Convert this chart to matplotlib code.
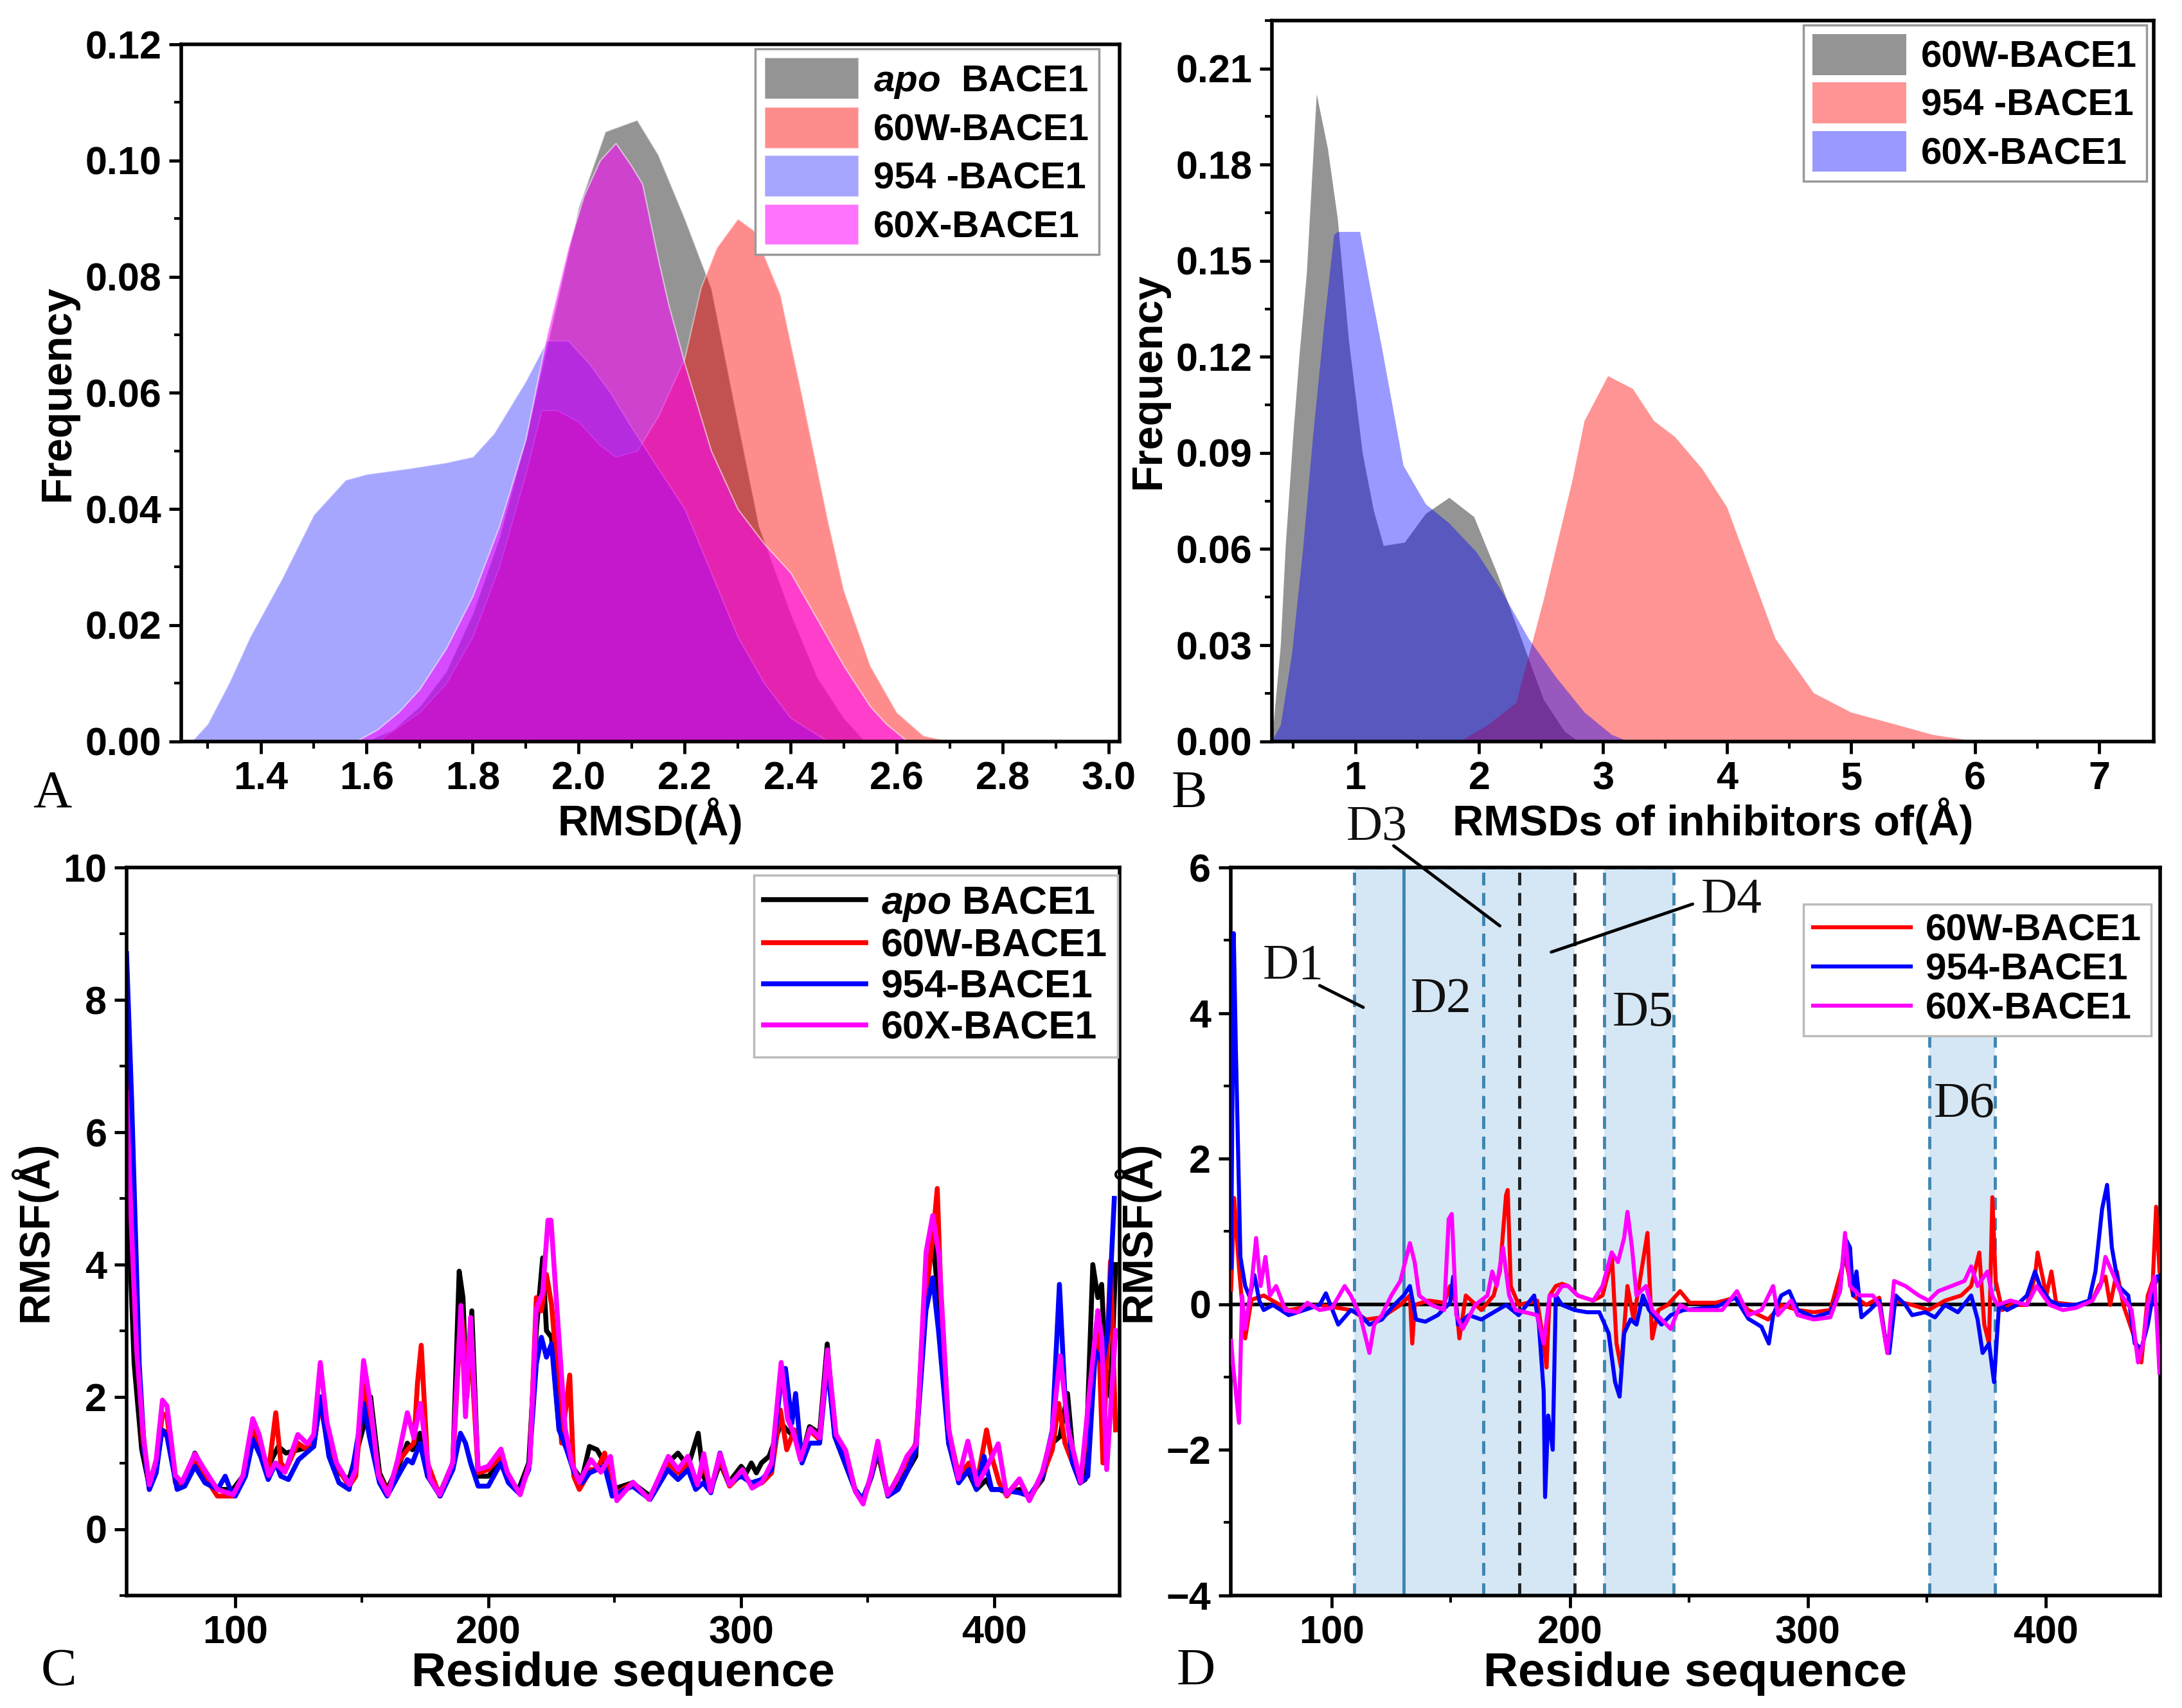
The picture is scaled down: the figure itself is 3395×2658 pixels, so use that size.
import matplotlib
matplotlib.use("Agg")
import matplotlib.pyplot as plt
from matplotlib.ticker import MultipleLocator, FormatStrFormatter
import numpy as np

plt.rcParams['font.family'] = ['Liberation Sans', 'DejaVu Sans']
plt.rcParams['font.weight'] = 'bold'
plt.rcParams['axes.labelweight'] = 'bold'
plt.rcParams['mathtext.fontset'] = 'custom'
plt.rcParams['mathtext.it'] = 'Liberation Sans:italic:bold'
plt.rcParams['mathtext.rm'] = 'Liberation Sans:bold'

# ---------------- panel A: RMSD distributions of the complexes ----------------
a_apo_x = [1.60, 1.65, 1.70, 1.75, 1.80, 1.85, 1.90, 1.95, 2.00, 2.05, 2.08, 2.11, 2.15, 2.20,
           2.25, 2.30, 2.34, 2.40, 2.45, 2.50, 2.54]
a_apo_y = [0, 0.002, 0.006, 0.012, 0.022, 0.035, 0.052, 0.072, 0.092, 0.105, 0.106, 0.107, 0.101,
           0.090, 0.078, 0.055, 0.037, 0.022, 0.011, 0.004, 0]
a_60w_x = [1.62, 1.70, 1.75, 1.80, 1.85, 1.90, 1.93, 1.96, 2.00, 2.04, 2.07, 2.11, 2.15, 2.20,
           2.23, 2.26, 2.30, 2.33, 2.38, 2.42, 2.47, 2.50, 2.55, 2.60, 2.65, 2.70]
a_60w_y = [0, 0.005, 0.010, 0.018, 0.030, 0.046, 0.057, 0.057, 0.055, 0.051, 0.049, 0.050, 0.056,
           0.066, 0.078, 0.085, 0.090, 0.088, 0.077, 0.060, 0.038, 0.026, 0.013, 0.005, 0.001, 0]
a_954_x = [1.27, 1.30, 1.34, 1.38, 1.44, 1.50, 1.56, 1.60, 1.68, 1.75, 1.80, 1.84, 1.90, 1.94,
           1.98, 2.02, 2.06, 2.10, 2.15, 2.20, 2.25, 2.30, 2.35, 2.40, 2.47]
a_954_y = [0, 0.003, 0.010, 0.018, 0.028, 0.039, 0.045, 0.046, 0.047, 0.048, 0.049, 0.053, 0.062,
           0.069, 0.069, 0.065, 0.060, 0.054, 0.047, 0.040, 0.029, 0.018, 0.010, 0.004, 0]
a_60x_x = [1.58, 1.62, 1.66, 1.70, 1.75, 1.80, 1.85, 1.90, 1.94, 1.98, 2.01, 2.04, 2.07, 2.10,
           2.12, 2.15, 2.17, 2.20, 2.25, 2.30, 2.35, 2.40, 2.45, 2.50, 2.55, 2.58, 2.62]
a_60x_y = [0, 0.002, 0.005, 0.009, 0.016, 0.025, 0.037, 0.052, 0.070, 0.085, 0.094, 0.100, 0.103,
           0.099, 0.096, 0.083, 0.075, 0.065, 0.050, 0.040, 0.034, 0.029, 0.021, 0.013, 0.006,
           0.003, 0]

# ---------------- panel B: RMSD distributions of the inhibitors ----------------
b_60w_x = [0.33, 0.40, 0.44, 0.50, 0.55, 0.61, 0.69, 0.78, 0.86, 0.95, 1.06, 1.15, 1.23, 1.40,
           1.57, 1.76, 1.96, 2.15, 2.35, 2.52, 2.69, 2.80]
b_60w_y = [0, 0.030, 0.061, 0.095, 0.120, 0.146, 0.202, 0.185, 0.163, 0.125, 0.090, 0.072, 0.061,
           0.062, 0.071, 0.076, 0.070, 0.052, 0.031, 0.013, 0.003, 0]
b_954_x = [1.85, 2.07, 2.30, 2.52, 2.75, 2.85, 3.04, 3.24, 3.41, 3.58, 3.80, 4.00, 4.20, 4.39,
           4.70, 5.00, 5.38, 5.66, 6.00]
b_954_y = [0, 0.005, 0.012, 0.044, 0.081, 0.100, 0.114, 0.110, 0.100, 0.095, 0.085, 0.073, 0.052,
           0.032, 0.015, 0.009, 0.005, 0.002, 0]
b_60x_x = [0.33, 0.40, 0.49, 0.58, 0.66, 0.75, 0.83, 0.86, 1.04, 1.13, 1.22, 1.39, 1.57, 1.76,
           1.98, 2.18, 2.40, 2.62, 2.85, 3.07, 3.20]
b_60x_y = [0, 0.005, 0.027, 0.060, 0.095, 0.130, 0.158, 0.159, 0.159, 0.140, 0.122, 0.086, 0.074,
           0.068, 0.059, 0.047, 0.032, 0.020, 0.009, 0.002, 0]

# ---------------- panel C: RMSF (residue, value) ----------------
c_apo = [(57, 5.5), (60, 2.5), (63, 1.2), (66, 0.65), (68.7, 0.9), (71, 1.5), (73, 1.45), (77, 0.65),
         (80, 0.7), (84, 1.15), (88, 0.85), (93, 0.6), (99, 0.6), (103, 0.8), (107, 1.4), (110, 1.2),
         (113, 0.95), (117, 1.25), (120, 1.15), (125, 1.2), (131, 1.25), (133.6, 2.0), (137, 1.2),
         (141, 0.85), (145, 0.75), (150.7, 1.55), (153.5, 2.0), (157, 0.85), (160, 0.6), (165, 1.0),
         (168, 1.3), (170, 1.2), (173, 1.45), (176, 0.8), (181, 0.55), (186, 1.0), (188.5, 3.9),
         (190, 3.5), (191.5, 2.0), (193.5, 3.3), (196, 0.8), (200, 0.8), (205, 1.0), (208, 0.75),
         (212, 0.6), (216, 1.0), (219, 3.0), (221.5, 4.1), (223, 3.0), (225, 2.9), (228, 1.5),
         (231, 1.3), (234, 0.9), (237, 0.75), (240, 1.25), (243, 1.2), (246, 1.0), (249, 0.6),
         (257, 0.7), (264, 0.5), (271, 1.0), (275, 1.15), (279, 0.95), (283, 1.45), (285, 0.8),
         (288, 0.6), (291.6, 1.0), (295, 0.7), (300, 0.95), (302, 0.85), (304, 1.0), (306, 0.85),
         (308, 1.0), (311, 1.1), (315.8, 1.6), (318, 1.5), (321, 1.4), (324, 1.1), (327, 1.55),
         (331, 1.45), (334, 2.8), (337, 1.4), (341, 1.0), (345, 0.6), (348, 0.45), (351.5, 0.8),
         (354, 1.15), (358, 0.5), (362, 0.7), (366, 0.9), (369, 1.1), (373, 3.9), (376, 4.3),
         (379, 3.0), (382, 1.3), (386, 0.8), (390, 0.85), (393, 0.6), (397, 0.75), (399, 0.6),
         (402, 0.6), (405, 0.55), (410, 0.6), (414, 0.5), (419, 0.75), (423, 1.3), (426, 1.4),
         (429, 2.05), (431, 1.2), (434, 0.7), (436, 0.75), (439, 4.0), (441, 3.5), (442.5, 3.7),
         (444, 2.5), (446, 2.0), (448, 4.0)]
c_60w = [(57, 7.0), (59, 5.0), (61, 3.0), (63.6, 1.3), (66, 0.6), (68.7, 0.95), (71.2, 1.75),
         (73, 1.7), (76.3, 0.7), (78.9, 0.65), (84, 1.0), (87.8, 0.8), (92.9, 0.5), (99.2, 0.5),
         (103, 0.75), (106.9, 1.55), (109.4, 1.3), (113.2, 0.9), (116, 1.76), (118, 1.0), (120, 0.9),
         (124.7, 1.3), (128.5, 1.2), (131, 1.3), (133.6, 1.9), (137, 1.2), (140, 0.95), (145, 0.65),
         (147.6, 0.8), (150.7, 2.2), (153.2, 1.5), (157, 0.8), (160.4, 0.55), (164.2, 1.0),
         (168, 1.2), (170.6, 1.3), (172, 2.2), (173.5, 2.78), (176, 1.0), (180.8, 0.5), (185.9, 0.9),
         (189.2, 3.3), (191, 2.6), (193, 2.8), (196, 0.85), (200, 0.9), (205, 1.1), (207.5, 0.8),
         (212.6, 0.55), (216.4, 1.0), (219, 3.5), (221, 3.3), (223, 3.85), (225, 3.4), (227, 2.5),
         (229, 1.3), (232.2, 2.33), (233.8, 0.8), (236, 0.6), (240.6, 0.9), (243, 0.9), (246, 1.15),
         (249, 0.5), (257.2, 0.7), (263.6, 0.45), (271.2, 1.0), (275, 0.85), (278.9, 1.0),
         (282.7, 0.7), (285.2, 1.0), (287.8, 0.6), (291.6, 1.05), (295.4, 0.65), (300.5, 0.85),
         (304.3, 0.65), (308.2, 0.7), (312, 0.85), (315.5, 1.8), (318, 1.2), (321, 1.5), (324, 1.05),
         (327, 1.5), (331, 1.35), (334, 2.6), (337, 1.4), (341, 1.2), (345, 0.6), (348, 0.4),
         (351.5, 0.8), (354, 1.2), (358, 0.5), (362, 0.8), (366, 1.05), (369, 1.3), (373, 3.5),
         (376, 4.5), (377.5, 5.15), (379, 3.5), (382, 1.5), (386, 0.8), (390, 1.0), (393, 0.65),
         (397, 1.5), (399, 1.1), (402, 0.7), (405, 0.5), (410, 0.75), (414, 0.45), (419, 0.8),
         (423, 1.2), (425.5, 1.9), (428, 1.3), (431, 1.0), (434, 0.7), (438, 1.9), (441, 3.3),
         (443, 1.0), (446, 4.05), (448, 1.5)]
c_954 = [(57, 8.7), (59, 6.5), (62, 2.5), (64, 1.2), (66, 0.6), (68.7, 0.85), (71, 1.5), (73, 1.4),
         (77, 0.6), (80, 0.65), (84, 0.95), (88, 0.7), (93, 0.6), (96, 0.8), (98, 0.6), (100, 0.5),
         (104, 0.8), (107, 1.35), (110, 1.1), (113, 0.75), (116, 1.0), (118, 0.8), (121, 0.75),
         (125, 1.05), (131, 1.25), (133.6, 2.0), (137, 1.1), (141, 0.7), (145, 0.6), (150.7, 1.9),
         (153, 1.4), (157, 0.7), (160, 0.5), (165, 0.85), (168, 1.05), (170, 1.0), (173, 1.3),
         (176, 0.8), (181, 0.5), (186, 0.9), (189, 1.45), (191, 1.3), (193, 1.0), (196, 0.65),
         (200, 0.65), (205, 1.0), (208, 0.7), (212, 0.55), (216, 0.9), (219, 2.5), (221, 2.9),
         (223, 2.6), (225, 2.8), (228, 1.5), (231, 1.2), (234, 0.85), (237, 0.7), (240, 0.85),
         (243, 0.9), (246, 0.95), (249, 0.5), (257, 0.65), (264, 0.45), (271, 0.9), (275, 0.75),
         (279, 0.9), (282, 0.6), (285, 0.7), (288, 0.55), (291.6, 1.15), (295, 0.7), (300, 0.8),
         (304, 0.7), (308, 0.75), (312, 0.9), (315.8, 2.3), (317.5, 2.43), (320, 1.6), (321.5, 2.05),
         (324, 1.0), (327, 1.3), (331, 1.3), (334, 2.5), (337, 1.4), (341, 1.0), (345, 0.6),
         (348, 0.45), (351.5, 0.8), (354, 1.25), (358, 0.5), (362, 0.6), (366, 0.9), (369, 1.2),
         (373, 3.3), (375.7, 3.8), (378, 3.0), (382, 1.3), (386, 0.7), (390, 0.9), (393, 0.6),
         (396, 1.1), (399, 0.6), (402, 0.6), (410, 0.55), (414, 0.5), (419, 0.8), (423, 1.5),
         (425.8, 3.7), (428, 2.0), (431, 1.0), (434, 0.7), (437, 0.8), (440, 2.7), (443, 2.5),
         (445, 3.0), (447.5, 5.0)]
c_60x = [(57, 6.6), (59, 4.5), (61, 2.7), (63.6, 1.43), (66, 0.67), (68.7, 1.05), (71.2, 1.95),
         (73, 1.86), (76.3, 0.81), (78.9, 0.71), (84, 1.14), (87.8, 0.90), (92.9, 0.60), (99.2, 0.52),
         (103, 0.81), (106.9, 1.67), (109.4, 1.43), (113.2, 0.81), (115.8, 1.0), (119.6, 0.86),
         (124.7, 1.43), (128.5, 1.29), (131, 1.43), (133.6, 2.52), (136.2, 1.62), (140, 1.0),
         (145.1, 0.67), (147.6, 0.9), (150.7, 2.55), (153.2, 1.95), (156.6, 0.81), (160.4, 0.52),
         (164.2, 1.05), (168, 1.76), (170.6, 1.38), (173.1, 1.9), (177, 0.76), (180.8, 0.52),
         (185.9, 1.0), (189.2, 3.38), (191, 1.7), (193, 3.2), (196, 0.9), (200, 0.95), (205, 1.21),
         (207.5, 0.86), (212.6, 0.52), (216.4, 1.0), (219, 3.33), (221.5, 3.57), (223.6, 4.67),
         (224.8, 4.67), (227.4, 3.19), (230.4, 1.52), (233, 1.0), (236, 0.71), (240.6, 1.05),
         (244.5, 0.86), (248.3, 1.1), (250.8, 0.43), (257.2, 0.71), (263.6, 0.45), (271.2, 1.1),
         (275, 0.9), (278.9, 1.1), (282.7, 0.67), (285.2, 1.14), (287.8, 0.57), (291.6, 1.14),
         (295.4, 0.67), (300.5, 0.9), (304.3, 0.62), (308.2, 0.71), (312, 1.0), (315.8, 2.52),
         (318.3, 1.67), (320.9, 1.43), (323.4, 1.05), (327.3, 1.52), (331.1, 1.38), (334.1, 2.71),
         (337.5, 1.43), (341.3, 1.19), (345.1, 0.57), (348.2, 0.38), (351.5, 0.86), (354, 1.33),
         (357.8, 0.52), (361.7, 0.76), (365.5, 1.1), (369.3, 1.29), (373.1, 4.19), (375.7, 4.74),
         (378.2, 4.14), (382, 1.52), (385.8, 0.76), (389.6, 1.33), (393.4, 0.67), (397.3, 0.95),
         (401.6, 1.29), (404.9, 0.52), (410, 0.76), (413.9, 0.43), (419, 0.86), (422.8, 1.43),
         (426.1, 2.62), (429.2, 1.52), (434.2, 0.71), (438.1, 2.24), (441, 3.3), (442.5, 2.9),
         (444.5, 0.9), (448, 3.0)]

# ---------------- panel D: RMSF difference (residue, value) ----------------
d_60w = [(57.7, 0.2), (59, 1.46), (61, 0.5), (63.6, -0.47), (66.2, 0.06), (71.4, 0.12), (76.6, 0.02),
         (81.9, -0.08), (94.9, -0.01), (108, -0.08), (114.5, -0.21), (121, -0.18), (128.8, -0.01),
         (132.8, 0.12), (133.8, -0.54), (134.8, -0.01), (140.7, 0.05), (147.2, 0.02), (149.7, 0.25),
         (152.3, -0.01), (153.6, -0.47), (156.3, 0.12), (162.8, -0.08), (168, 0.12), (170.6, 0.45),
         (173.2, 1.5), (173.9, 1.57), (175.2, 0.25), (178.5, -0.01), (186.3, 0.05), (189, -0.54),
         (190.2, -0.87), (191.5, 0.12), (194.1, 0.25), (196.7, 0.28), (199.3, 0.25), (203.3, 0.12),
         (209.8, 0.05), (213.7, 0.12), (216.3, 0.45), (217.6, 0.71), (219.6, -0.54), (221.5, -0.87),
         (224.2, 0.25), (226.8, -0.21), (229.4, 0.32), (232.6, 0.98), (234.6, -0.47), (237.2, -0.08),
         (241.1, -0.01), (246.3, 0.18), (250.3, 0.02), (261.3, 0.02), (269.5, 0.09), (275, -0.08),
         (283.3, -0.21), (288.8, -0.01), (295.7, -0.08), (302.5, -0.11), (309.4, -0.08),
         (315.6, 0.65), (319, 0.12), (324.5, -0.01), (330, 0.09), (333.4, -0.67), (336.2, 0.05),
         (343.8, -0.01), (350.7, -0.08), (357.6, 0.05), (364.4, 0.12), (368.6, 0.25), (372, 0.71),
         (374.1, -0.28), (376.1, -0.54), (377.5, 1.47), (378.9, 0.32), (381.6, -0.08),
         (385.1, -0.01), (392, -0.01), (395.4, 0.38), (396.5, 0.71), (398.1, 0.45), (400.2, 0.12),
         (402.3, 0.45), (404.3, 0.02), (412.6, -0.01), (419.5, 0.05), (422.2, 0.25), (425, 0.38),
         (427, -0.01), (429.8, 0.45), (432.5, -0.01), (437.3, -0.47), (440.1, -0.8), (442.8, 0.12),
         (444.9, 0.32), (446.3, 1.34), (447.7, 0.45)]
d_954 = [(57.7, 0.5), (58.8, 5.1), (59.7, 3.5), (61.6, 0.65), (63.6, 0.25), (65.5, 0.1), (67.5, 0.4),
         (69.5, 0.05), (71.4, -0.08), (75.3, -0.01), (81.9, -0.15), (88.4, -0.08), (94.9, -0.01),
         (97.5, 0.15), (102.7, -0.28), (108, -0.08), (111.9, -0.15), (115.8, -0.28), (121, -0.21),
         (126.2, -0.01), (130.2, 0.12), (132.8, 0.25), (135.4, -0.21), (139.3, -0.24),
         (144.5, -0.15), (149.7, 0.02), (151, 0.38), (153, -0.28), (157.6, -0.15), (162.8, -0.21),
         (168, -0.11), (173.2, -0.01), (178.5, -0.15), (185, 0.12), (187, -0.28), (189, -1.2),
         (189.6, -2.65), (190.9, -1.53), (192.8, -2.0), (194.1, 0.12), (196.7, -0.01), (202, -0.08),
         (207.2, -0.11), (212.4, -0.11), (216.3, -0.4), (219, -1.07), (220.9, -1.27), (222.8, -0.4),
         (225.5, -0.21), (228, -0.28), (230.7, 0.12), (233.3, -0.08), (238.5, -0.28),
         (242.4, -0.15), (247.7, -0.08), (261.3, -0.04), (269.5, 0.09), (275, -0.2), (280.5, -0.31),
         (283.6, -0.54), (285.4, -0.15), (288.8, 0.12), (292.2, 0.18), (295.7, -0.08),
         (302.5, -0.18), (309.4, -0.11), (313.5, 0.18), (315.6, 0.91), (317.7, 0.78), (319, 0.12),
         (320.4, 0.45), (322.5, -0.18), (326, -0.08), (330, 0.05), (332.8, -0.54), (334.2, -0.67),
         (336.9, 0.12), (341, -0.01), (343.8, -0.15), (349.3, -0.11), (353.4, -0.18),
         (357.6, -0.01), (363, -0.11), (368.6, 0.12), (371.3, -0.21), (373.4, -0.67),
         (376.1, -0.54), (378.2, -1.07), (380.3, -0.01), (383.7, -0.08), (387.8, -0.01), (392, 0.12),
         (395.4, 0.45), (397.5, 0.25), (401.6, 0.05), (405.7, -0.01), (412.6, -0.01), (418.1, 0.05),
         (420.8, 0.45), (423.6, 1.31), (425.7, 1.64), (427.7, 0.78), (430.5, 0.25), (434.6, 0.12),
         (437.3, -0.54), (440.1, -0.61), (442.8, -0.28), (445.6, 0.25), (447, 0.38)]
d_60x = [(57.7, -0.5), (58.4, -0.8), (61, -1.63), (62.3, 0.12), (63.6, -0.34), (66.2, 0.25),
         (68.2, 0.91), (70.1, 0.25), (72.1, 0.65), (74, 0.12), (76.6, 0.25), (80.5, -0.08),
         (85.8, -0.11), (89.7, 0.02), (94.9, -0.08), (100.1, -0.05), (105.4, 0.25), (108, 0.12),
         (111.9, -0.15), (115.8, -0.67), (117.8, -0.28), (121, -0.15), (125, 0.12), (128.8, 0.32),
         (132.8, 0.84), (134.8, 0.58), (136.7, 0.12), (141.9, -0.01), (147.2, -0.08), (149.1, 1.17),
         (150.4, 1.24), (152.3, -0.15), (155, -0.34), (160.2, -0.01), (165.4, 0.12), (167.4, 0.45),
         (169.3, 0.25), (171.9, 0.78), (174.5, 0.12), (177.2, -0.08), (181.1, -0.11),
         (186.3, -0.15), (189, -0.54), (191.5, 0.12), (194.1, 0.12), (196.7, 0.25), (199.3, 0.25),
         (203.3, 0.12), (209.8, 0.05), (213.7, 0.25), (217.6, 0.71), (220.2, 0.58), (222.8, 0.91),
         (224.2, 1.27), (226.1, 0.78), (228, 0.12), (232, 0.25), (234.6, -0.08), (238.5, -0.21),
         (242.4, -0.34), (246.3, -0.01), (250.3, -0.08), (255.8, -0.08), (264, -0.08), (270.2, 0.18),
         (275, -0.15), (280.5, -0.08), (285.4, 0.25), (287.4, -0.15), (292.9, 0.05), (295.7, -0.15),
         (302.5, -0.21), (309.4, -0.18), (313.5, 0.18), (315.6, 0.98), (317.7, 0.25), (321.8, 0.12),
         (327.3, 0.12), (330, -0.01), (333.4, -0.67), (336.2, 0.32), (341, 0.25), (346.6, 0.12),
         (350.7, 0.05), (354.8, 0.18), (360.3, 0.25), (365.8, 0.32), (368.6, 0.52), (371.3, 0.25),
         (375.4, 0.45), (377.5, 0.12), (379.6, -0.01), (385.1, 0.05), (392, -0.01), (396.1, 0.25),
         (398.8, 0.12), (401.6, -0.01), (407.1, -0.08), (412.6, -0.05), (419.5, 0.05), (422.9, 0.25),
         (425, 0.65), (427.7, 0.45), (431.9, 0.12), (436, -0.08), (438.7, -0.8), (440.8, -0.54),
         (442.8, -0.01), (445.6, 0.38), (447.7, -0.94)]

# shaded domains in D: (start, end, top)
d_regions = [(109.3, 130.2, 6), (130.2, 163.8, 6), (163.8, 178.7, 6), (178.7, 202.0, 6),
             (214.4, 243.7, 6), (351.0, 378.5, 3.85)]

TICK = 44
LAB = 48
LEG = 42


def style_axes(ax):
    for s in ax.spines.values():
        s.set_linewidth(4)
    ax.tick_params(which='major', direction='out', length=14, width=3.5, labelsize=TICK,
                   top=False, right=False, pad=8)
    ax.tick_params(which='minor', direction='out', length=8, width=3, top=False, right=False)


def box_legend(ax, anchor, size, edge, **kw):
    leg = ax.legend(loc='upper right', bbox_to_anchor=anchor, fontsize=size, frameon=True,
                    fancybox=False, framealpha=1, edgecolor=edge, borderaxespad=0, **kw)
    leg.get_frame().set_linewidth(2.5)
    return leg


fig = plt.figure(figsize=(33.95, 26.58), dpi=100)

# ---------- A ----------
axA = fig.add_axes([0.083, 0.566, 0.430, 0.408])
for xs, ys, col, al, lab in [(a_apo_x, a_apo_y, 'black', 0.42, r'$\it{apo}$  BACE1'),
                             (a_60w_x, a_60w_y, 'red', 0.45, '60W-BACE1'),
                             (a_954_x, a_954_y, 'blue', 0.35, '954 -BACE1'),
                             (a_60x_x, a_60x_y, 'magenta', 0.55, '60X-BACE1')]:
    axA.fill_between(xs, ys, 0, facecolor=col, alpha=al, edgecolor='white', linewidth=1.5, label=lab)
axA.set_xlim(1.25, 3.02)
axA.set_ylim(0, 0.12)
axA.xaxis.set_minor_locator(MultipleLocator(0.1))
axA.yaxis.set_major_locator(MultipleLocator(0.02))
axA.yaxis.set_minor_locator(MultipleLocator(0.01))
axA.set_xticks([1.4, 1.6, 1.8, 2.0, 2.2, 2.4, 2.6, 2.8, 3.0])
axA.xaxis.set_major_formatter(FormatStrFormatter('%.1f'))
axA.yaxis.set_major_formatter(FormatStrFormatter('%.2f'))
style_axes(axA)
axA.set_xlabel('RMSD(Å)', fontsize=LAB, labelpad=0)
axA.set_ylabel('Frequency', fontsize=LAB, labelpad=8)
box_legend(axA, (0.978, 0.994), LEG, '#999999', handlelength=2.5, handleheight=1.3,
           labelspacing=0.2, borderpad=0.25, handletextpad=0.4)

# ---------- B ----------
axB = fig.add_axes([0.583, 0.566, 0.404, 0.422])
for xs, ys, col, al, lab in [(b_60w_x, b_60w_y, 'black', 0.42, '60W-BACE1'),
                             (b_954_x, b_954_y, 'red', 0.42, '954 -BACE1'),
                             (b_60x_x, b_60x_y, 'blue', 0.40, '60X-BACE1')]:
    axB.fill_between(xs, ys, 0, facecolor=col, alpha=al, linewidth=0, label=lab)
axB.set_xlim(0.33, 7.44)
axB.set_ylim(0, 0.225)
axB.xaxis.set_major_locator(MultipleLocator(1))
axB.xaxis.set_minor_locator(MultipleLocator(0.5))
axB.yaxis.set_major_locator(MultipleLocator(0.03))
axB.yaxis.set_minor_locator(MultipleLocator(0.015))
axB.yaxis.set_major_formatter(FormatStrFormatter('%.2f'))
style_axes(axB)
axB.set_xlabel('RMSDs of inhibitors of(Å)', fontsize=LAB, labelpad=0)
axB.set_ylabel('Frequency', fontsize=LAB, labelpad=8)
box_legend(axB, (0.992, 0.994), LEG, '#999999', handlelength=2.5, handleheight=1.3,
           labelspacing=0.2, borderpad=0.25, handletextpad=0.4)

# ---------- C ----------
axC = fig.add_axes([0.058, 0.066, 0.455, 0.426])
for pts, col, lab in [(c_apo, 'black', r'$\it{apo}$ BACE1'), (c_60w, 'red', '60W-BACE1'),
                      (c_954, 'blue', '954-BACE1'), (c_60x, 'magenta', '60X-BACE1')]:
    arr = np.array(pts)
    axC.plot(arr[:, 0], arr[:, 1], color=col, lw=5.5, label=lab)
axC.set_xlim(57, 449.5)
axC.set_ylim(-1, 10)
axC.xaxis.set_major_locator(MultipleLocator(100))
axC.xaxis.set_minor_locator(MultipleLocator(50))
axC.yaxis.set_minor_locator(MultipleLocator(1))
axC.set_yticks([0, 2, 4, 6, 8, 10])
style_axes(axC)
axC.set_xlabel('Residue sequence', fontsize=LAB + 6, labelpad=0)
axC.set_ylabel('RMSF(Å)', fontsize=LAB, labelpad=8)
box_legend(axC, (0.998, 0.99), LEG + 2, '#bbbbbb', handlelength=2.6, labelspacing=0.12,
           borderpad=0.25, handletextpad=0.4)

# ---------- D ----------
axD = fig.add_axes([0.564, 0.066, 0.426, 0.426])
for x0, x1, top in d_regions:
    axD.fill_between([x0, x1], [-4, -4], [top, top], facecolor='#d5e6f4', edgecolor='none', zorder=0)
edge_col = '#3f86b2'
for x0, x1, top in d_regions:
    col0 = '#222222' if x0 == 178.7 else edge_col
    axD.plot([x0, x0], [-4, top], color=col0, lw=3.5, dashes=(4, 2.5), zorder=1)
    if x1 == 130.2:
        axD.plot([x1, x1], [-4, top], color=edge_col, lw=3.5, zorder=1)
    else:
        axD.plot([x1, x1], [-4, top], color=col0, lw=3.5, dashes=(4, 2.5), zorder=1)
    axD.plot([x0, x1], [top, top], color=edge_col, lw=3.5, dashes=(4, 2.5), zorder=1, clip_on=False)
axD.axhline(0, color='black', lw=4, zorder=2)
for pts, col, lab in [(d_60w, 'red', '60W-BACE1'), (d_954, 'blue', '954-BACE1'),
                      (d_60x, 'magenta', '60X-BACE1')]:
    arr = np.array(pts)
    axD.plot(arr[:, 0], arr[:, 1], color=col, lw=4.5, label=lab, zorder=3)
axD.set_xlim(57.5, 448)
axD.set_ylim(-4, 6)
axD.xaxis.set_major_locator(MultipleLocator(100))
axD.xaxis.set_minor_locator(MultipleLocator(50))
axD.yaxis.set_major_locator(MultipleLocator(2))
axD.yaxis.set_minor_locator(MultipleLocator(1))
style_axes(axD)
axD.set_xlabel('Residue sequence', fontsize=LAB + 6, labelpad=0)
axD.set_ylabel('RMSF(Å)', fontsize=LAB, labelpad=8)
box_legend(axD, (0.99, 0.95), LEG, '#bbbbbb', handlelength=2.6, labelspacing=0.12,
           borderpad=0.25, handletextpad=0.4)

serif = dict(family='Liberation Serif', fontweight='normal', fontsize=56, color='#111111')
axD.text(83.8, 4.64, 'D1', ha='center', va='center', **serif)
axD.text(145.8, 4.18, 'D2', ha='center', va='center', **serif)
axD.text(119, 6.55, 'D3', ha='center', va='center', clip_on=False, **serif)
axD.text(268, 5.55, 'D4', ha='center', va='center', **serif)
axD.text(230.7, 4.0, 'D5', ha='center', va='center', **serif)
axD.text(365.6, 2.74, 'D6', ha='center', va='center', **serif)
line_kw = dict(arrowprops=dict(arrowstyle='-', lw=3.5, color='black', shrinkA=0, shrinkB=0),
               annotation_clip=False)
axD.annotate('', xy=(113.2, 4.08), xytext=(94.9, 4.38), **line_kw)
axD.annotate('', xy=(170.6, 5.2), xytext=(126, 6.3), **line_kw)
axD.annotate('', xy=(192.2, 4.84), xytext=(251.6, 5.5), **line_kw)

# panel letters
letter = dict(family='Liberation Serif', fontweight='normal', fontsize=60, ha='center', va='center')
fig.text(0.024, 0.535, 'A', **letter)
fig.text(0.545, 0.535, 'B', **letter)
fig.text(0.027, 0.021, 'C', **letter)
fig.text(0.548, 0.021, 'D', **letter)

fig.savefig('out.png', dpi=100, facecolor='white')
